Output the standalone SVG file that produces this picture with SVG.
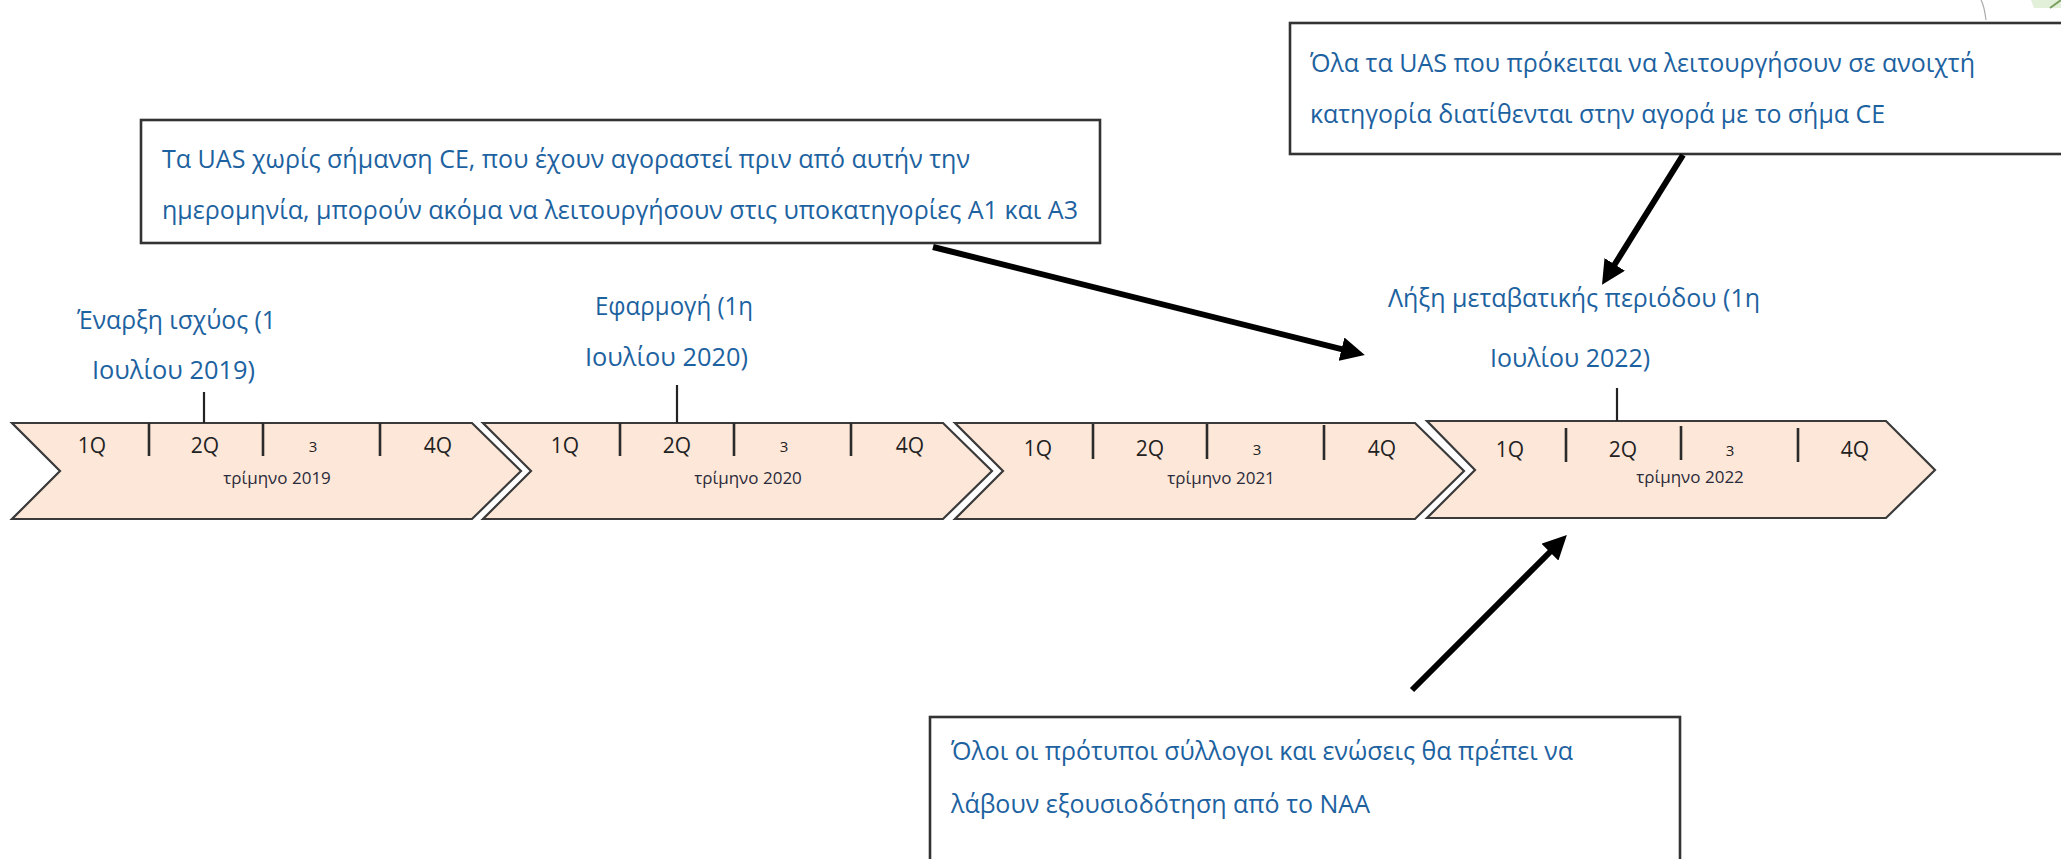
<svg xmlns="http://www.w3.org/2000/svg" width="2061" height="859" viewBox="0 0 2061 859">
<style>
.chev{fill:#FDE7D8;stroke:#3a3a3a;stroke-width:2.2;stroke-linejoin:miter}
.div{stroke:#2b2b2b;stroke-width:2.6}
.q{font-family:"Open Sans","Noto Sans",sans-serif;font-size:21px;fill:#222;text-anchor:middle}
.q3{font-family:"Open Sans","Noto Sans",sans-serif;font-size:15px;fill:#222;text-anchor:middle}
.yr{font-family:"Open Sans","Noto Sans",sans-serif;font-size:17px;fill:#2a2a3a;text-anchor:middle}
.ms{font-family:"Open Sans","Noto Sans",sans-serif;font-size:26px;fill:#1D62A0}
.bx{font-family:"Open Sans","Noto Sans",sans-serif;font-size:25px;fill:#1D62A0}
.box{fill:#fff;stroke:#333;stroke-width:2.6}
.tick{stroke:#222;stroke-width:2.2}
.arr{stroke:#000;stroke-width:6;fill:none}
</style>
<defs>
<marker id="ah" viewBox="0 0 10 10" refX="3" refY="5" markerWidth="4" markerHeight="4" orient="auto">
<path d="M0,0 L10,5 L0,10 z" fill="#000"/>
</marker>
</defs>
<rect width="2061" height="859" fill="#fff"/>
<g id="corner-artifact">
<path d="M1981,0 Q1984,5 1986,20" fill="none" stroke="#aaa" stroke-width="1.2"/>
<path d="M2031,0 L2061,0 L2061,8 L2034,8 Z" fill="#E2EFD9"/>
<path d="M2050,8 L2061,0" stroke="#7aa060" stroke-width="2"/>
</g>
<g id="q2019">
<polygon class="chev" points="12,423 472,423 521,471 472,519 12,519 60,471"/>
<line class="div" x1="149" y1="423" x2="149" y2="456"/>
<line class="div" x1="263" y1="423" x2="263" y2="456"/>
<line class="div" x1="380" y1="423" x2="380" y2="456"/>
<text class="q" x="92" y="453">1Q</text>
<text class="q" x="205" y="453">2Q</text>
<text class="q3" x="313" y="452">3</text>
<text class="q" x="438" y="453">4Q</text>
<text class="yr" x="277" y="484">τρίμηνο 2019</text>
</g>
<g id="q2020">
<polygon class="chev" points="483,423 943,423 992,471 943,519 483,519 531,471"/>
<line class="div" x1="620" y1="423" x2="620" y2="456"/>
<line class="div" x1="734" y1="423" x2="734" y2="456"/>
<line class="div" x1="851" y1="423" x2="851" y2="456"/>
<text class="q" x="565" y="453">1Q</text>
<text class="q" x="677" y="453">2Q</text>
<text class="q3" x="784" y="452">3</text>
<text class="q" x="910" y="453">4Q</text>
<text class="yr" x="748" y="484">τρίμηνο 2020</text>
</g>
<g id="q2021">
<polygon class="chev" points="955,423 1415,423 1464,471 1415,519 955,519 1003,471"/>
<line class="div" x1="1093" y1="424" x2="1093" y2="459"/>
<line class="div" x1="1207" y1="424" x2="1207" y2="459"/>
<line class="div" x1="1324" y1="425" x2="1324" y2="460"/>
<text class="q" x="1038" y="456">1Q</text>
<text class="q" x="1150" y="456">2Q</text>
<text class="q3" x="1257" y="455">3</text>
<text class="q" x="1382" y="456">4Q</text>
<text class="yr" x="1221" y="484">τρίμηνο 2021</text>
</g>
<g id="q2022">
<polygon class="chev" points="1427,421 1886,421 1935,470 1886,518 1427,518 1475,470"/>
<line class="div" x1="1566" y1="428" x2="1566" y2="462"/>
<line class="div" x1="1681" y1="426" x2="1681" y2="460"/>
<line class="div" x1="1798" y1="428" x2="1798" y2="462"/>
<text class="q" x="1510" y="457">1Q</text>
<text class="q" x="1623" y="457">2Q</text>
<text class="q3" x="1730" y="456">3</text>
<text class="q" x="1855" y="457">4Q</text>
<text class="yr" x="1690" y="483">τρίμηνο 2022</text>
</g>
<g id="m2019">
<text class="ms" x="77" y="329" textLength="199" lengthAdjust="spacingAndGlyphs">Έναρξη ισχύος (1</text>
<text class="ms" x="92" y="379" textLength="163" lengthAdjust="spacingAndGlyphs">Ιουλίου 2019)</text>
<line class="tick" x1="204" y1="392" x2="204" y2="423"/>
</g>
<g id="m2020">
<text class="ms" x="595" y="315" textLength="158" lengthAdjust="spacingAndGlyphs">Εφαρμογή (1η</text>
<text class="ms" x="585" y="366" textLength="163" lengthAdjust="spacingAndGlyphs">Ιουλίου 2020)</text>
<line class="tick" x1="677" y1="385" x2="677" y2="423"/>
</g>
<g id="m2022">
<text class="ms" x="1388" y="307" textLength="372" lengthAdjust="spacingAndGlyphs">Λήξη μεταβατικής περιόδου (1η</text>
<text class="ms" x="1490" y="367" textLength="160" lengthAdjust="spacingAndGlyphs">Ιουλίου 2022)</text>
<line class="tick" x1="1617" y1="388" x2="1617" y2="421"/>
</g>
<g id="note-uas-no-ce">
<rect class="box" x="141" y="120" width="959" height="123"/>
<text class="bx" x="162" y="168" textLength="808" lengthAdjust="spacingAndGlyphs">Τα UAS χωρίς σήμανση CE, που έχουν αγοραστεί πριν από αυτήν την</text>
<text class="bx" x="162" y="219" textLength="916" lengthAdjust="spacingAndGlyphs">ημερομηνία, μπορούν ακόμα να λειτουργήσουν στις υποκατηγορίες Α1 και Α3</text>
</g>
<g id="note-ce-mark">
<rect class="box" x="1290" y="23" width="790" height="131"/>
<text class="bx" x="1310" y="72" textLength="665" lengthAdjust="spacingAndGlyphs">Όλα τα UAS που πρόκειται να λειτουργήσουν σε ανοιχτή</text>
<text class="bx" x="1310" y="123" textLength="575" lengthAdjust="spacingAndGlyphs">κατηγορία διατίθενται στην αγορά με το σήμα CE</text>
</g>
<g id="note-naa">
<rect class="box" x="930" y="717" width="750" height="160"/>
<text class="bx" x="951" y="760" textLength="622" lengthAdjust="spacingAndGlyphs">Όλοι οι πρότυποι σύλλογοι και ενώσεις θα πρέπει να</text>
<text class="bx" x="951" y="813" textLength="419" lengthAdjust="spacingAndGlyphs">λάβουν εξουσιοδότηση από το NAA</text>
</g>
<g id="connectors">
<line class="arr" x1="933" y1="247" x2="1348.5" y2="350.9" marker-end="url(#ah)"/>
<line class="arr" x1="1683" y1="155" x2="1610.9" y2="270.5" marker-end="url(#ah)"/>
<line class="arr" x1="1412" y1="690" x2="1555" y2="547" marker-end="url(#ah)"/>
</g>
</svg>
